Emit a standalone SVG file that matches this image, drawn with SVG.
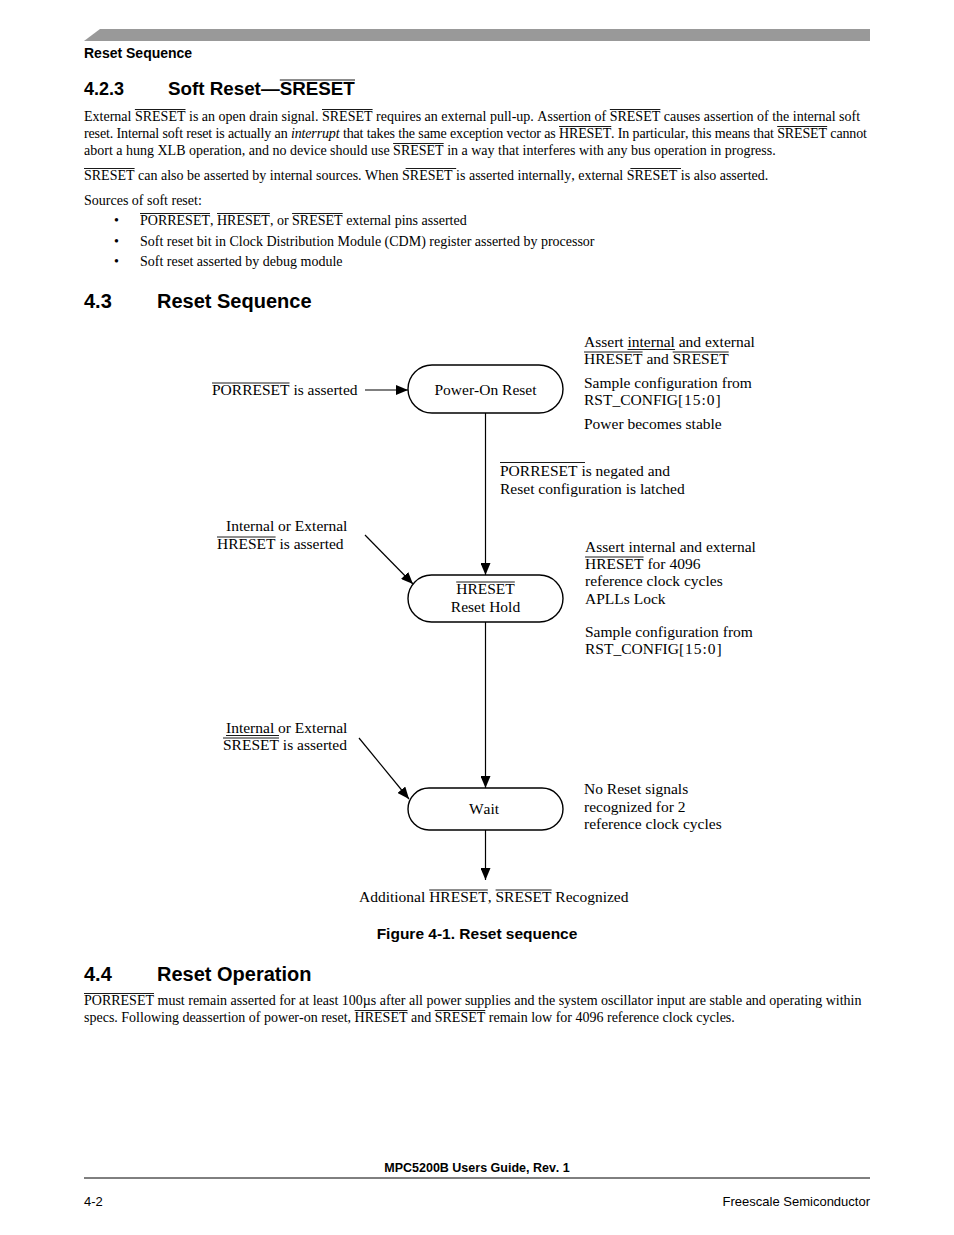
<svg xmlns="http://www.w3.org/2000/svg" width="954" height="1235" viewBox="0 0 954 1235">
<defs>
<style>
text{font-kerning:none}
.h{font-family:"Liberation Sans",Arial,sans-serif;font-weight:bold;fill:#000}
.b{font-family:"Liberation Serif","Times New Roman",serif;font-size:14px;fill:#000}
.d{font-family:"Liberation Serif","Times New Roman",serif;font-size:15.5px;fill:#000}
.node{fill:#fff;stroke:#000;stroke-width:1.4}
.conn line{stroke:#000;stroke-width:1.2}
.ol line{stroke:#000;stroke-width:0.9}
.br{letter-spacing:1px}
</style>
<marker id="ah" markerWidth="12" markerHeight="10" refX="12" refY="5" orient="auto" markerUnits="userSpaceOnUse">
<path d="M0,0 L12,5 L0,10 Z" fill="#000"/>
</marker>
</defs>
<rect width="954" height="1235" fill="#fff"/>
<!-- header -->
<path d="M100,29 L870,29 L870,41 L84,41 Z" fill="#999"/>
<text class="h" x="84" y="58" font-size="14">Reset Sequence</text>
<text class="h" x="84" y="95" font-size="18">4.2.3</text>
<text class="h" x="168" y="95" font-size="18.8">Soft Reset—SRESET</text>
<!-- body -->
<text class="b" x="84" y="121">External SRESET is an open drain signal. SRESET requires an external pull-up. Assertion of SRESET causes assertion of the internal soft</text>
<text class="b" x="84" y="138" letter-spacing="-0.128">reset. Internal soft reset is actually an <tspan font-style="italic">interrupt</tspan> that takes the same exception vector as HRESET. In particular, this means that SRESET cannot</text>
<text class="b" x="84" y="155">abort a hung XLB operation, and no device should use SRESET in a way that interferes with any bus operation in progress.</text>
<text class="b" x="84" y="180">SRESET can also be asserted by internal sources. When SRESET is asserted internally, external SRESET is also asserted.</text>
<text class="b" x="84" y="205">Sources of soft reset:</text>
<text class="b" x="114" y="225">•</text>
<text class="b" x="140" y="225">PORRESET, HRESET, or SRESET external pins asserted</text>
<text class="b" x="114" y="246">•</text>
<text class="b" x="140" y="246">Soft reset bit in Clock Distribution Module (CDM) register asserted by processor</text>
<text class="b" x="114" y="266">•</text>
<text class="b" x="140" y="266">Soft reset asserted by debug module</text>
<text class="h" x="84" y="308" font-size="20">4.3</text>
<text class="h" x="157" y="308" font-size="20">Reset Sequence</text>
<g class="ol">
<line x1="279.8" y1="80" x2="355" y2="80"/>
<line x1="134.9" y1="109.5" x2="185.5" y2="109.5"/>
<line x1="322" y1="109.5" x2="372.6" y2="109.5"/>
<line x1="609.8" y1="109.5" x2="660.4" y2="109.5"/>
<line x1="559" y1="126.5" x2="611.3" y2="126.5"/>
<line x1="777.2" y1="126.5" x2="827.2" y2="126.5"/>
<line x1="393.1" y1="143.5" x2="443.7" y2="143.5"/>
<line x1="84" y1="168.5" x2="134.6" y2="168.5"/>
<line x1="405.6" y1="168.5" x2="456.2" y2="168.5"/>
<line x1="630.4" y1="168.5" x2="681" y2="168.5"/>
<line x1="140" y1="213.5" x2="210" y2="213.5"/>
<line x1="217" y1="213.5" x2="269.9" y2="213.5"/>
<line x1="292.1" y1="213.5" x2="342.7" y2="213.5"/>
<line x1="84" y1="993.5" x2="154" y2="993.5"/>
<line x1="354.6" y1="1010.5" x2="407.5" y2="1010.5"/>
<line x1="434.7" y1="1010.5" x2="485.3" y2="1010.5"/>
</g>
<!-- diagram connectors -->
<g id="connectors" class="conn">
<line x1="365" y1="390" x2="408" y2="390" marker-end="url(#ah)"/>
<line x1="485.5" y1="413" x2="485.5" y2="575" marker-end="url(#ah)"/>
<line x1="365" y1="535" x2="413" y2="584" marker-end="url(#ah)"/>
<line x1="485.5" y1="622" x2="485.5" y2="788" marker-end="url(#ah)"/>
<line x1="359" y1="738" x2="409" y2="799" marker-end="url(#ah)"/>
<line x1="485.5" y1="830" x2="485.5" y2="880" marker-end="url(#ah)"/>
</g>
<g id="node-por">
<rect class="node" x="408" y="365" width="155" height="48" rx="24"/>
<text class="d" x="485.5" y="395" text-anchor="middle">Power-On Reset</text>
</g>
<g id="node-hreset">
<rect class="node" x="408" y="575" width="155" height="47" rx="23.5"/>
<text class="d" x="485.5" y="594" text-anchor="middle">HRESET</text>
<text class="d" x="485.5" y="612" text-anchor="middle">Reset Hold</text>
<line x1="456.2" y1="582" x2="514.8" y2="582" stroke="#000" stroke-width="0.9"/>
</g>
<g id="node-wait">
<rect class="node" x="408" y="788" width="155" height="42" rx="21"/>
<text class="d" x="484" y="814" text-anchor="middle">Wait</text>
</g>
<g id="labels">
<text class="d" x="212" y="395">PORRESET is asserted</text>
<text class="d" x="584" y="347">Assert internal and external</text>
<text class="d" x="584" y="364">HRESET and SRESET</text>
<text class="d" x="584" y="388">Sample configuration from</text>
<text class="d" x="584" y="405">RST_CONFIG<tspan class="br">[15:0]</tspan></text>
<text class="d" x="584" y="429">Power becomes stable</text>
<text class="d" x="500" y="476" font-size="17">PORRESET is negated and</text>
<text class="d" x="500" y="494">Reset configuration is latched</text>
<text class="d" x="226" y="531">Internal or External</text>
<text class="d" x="217" y="549">HRESET is asserted</text>
<text class="d" x="585" y="552">Assert internal and external</text>
<text class="d" x="585" y="569">HRESET for 4096</text>
<text class="d" x="585" y="586">reference clock cycles</text>
<text class="d" x="585" y="604">APLLs Lock</text>
<text class="d" x="585" y="637">Sample configuration from</text>
<text class="d" x="585" y="654">RST_CONFIG<tspan class="br">[15:0]</tspan></text>
<text class="d" x="226" y="733">Internal or External</text>
<text class="d" x="223" y="750">SRESET is asserted</text>
<text class="d" x="584" y="794">No Reset signals</text>
<text class="d" x="584" y="812">recognized for 2</text>
<text class="d" x="584" y="829">reference clock cycles</text>
<text class="d" x="359" y="902">Additional HRESET, SRESET Recognized</text>
<g class="ol">
<line x1="212" y1="383" x2="289.5" y2="383"/>
<line x1="627.5" y1="349.5" x2="675" y2="349.5"/>
<line x1="584" y1="352" x2="642.6" y2="352"/>
<line x1="672.7" y1="352" x2="728.7" y2="352"/>
<line x1="500" y1="462.5" x2="585" y2="462.5"/>
<line x1="217" y1="537" x2="275.6" y2="537"/>
<line x1="585" y1="557" x2="643.6" y2="557"/>
<line x1="226" y1="735.5" x2="279" y2="735.5"/>
<line x1="223" y1="738" x2="279" y2="738"/>
<line x1="429.2" y1="890" x2="487.8" y2="890"/>
<line x1="495.6" y1="890" x2="551.6" y2="890"/>
</g>
</g>
<text class="h" x="477" y="939" font-size="15.5" text-anchor="middle">Figure 4-1. Reset sequence</text>
<text class="h" x="84" y="981" font-size="20">4.4</text>
<text class="h" x="157" y="981" font-size="20">Reset Operation</text>
<text class="b" x="84" y="1005">PORRESET must remain asserted for at least 100µs after all power supplies and the system oscillator input are stable and operating within</text>
<text class="b" x="84" y="1022">specs. Following deassertion of power-on reset, HRESET and SRESET remain low for 4096 reference clock cycles.</text>
<text class="h" x="477" y="1172" font-size="12.5" text-anchor="middle">MPC5200B Users Guide, Rev. 1</text>
<line x1="84" y1="1178" x2="870" y2="1178" stroke="#000" stroke-width="1"/>
<text x="84" y="1206" font-family="Liberation Sans,Arial,sans-serif" font-size="13">4-2</text>
<text x="870" y="1206" font-family="Liberation Sans,Arial,sans-serif" font-size="13" text-anchor="end">Freescale Semiconductor</text>
</svg>
